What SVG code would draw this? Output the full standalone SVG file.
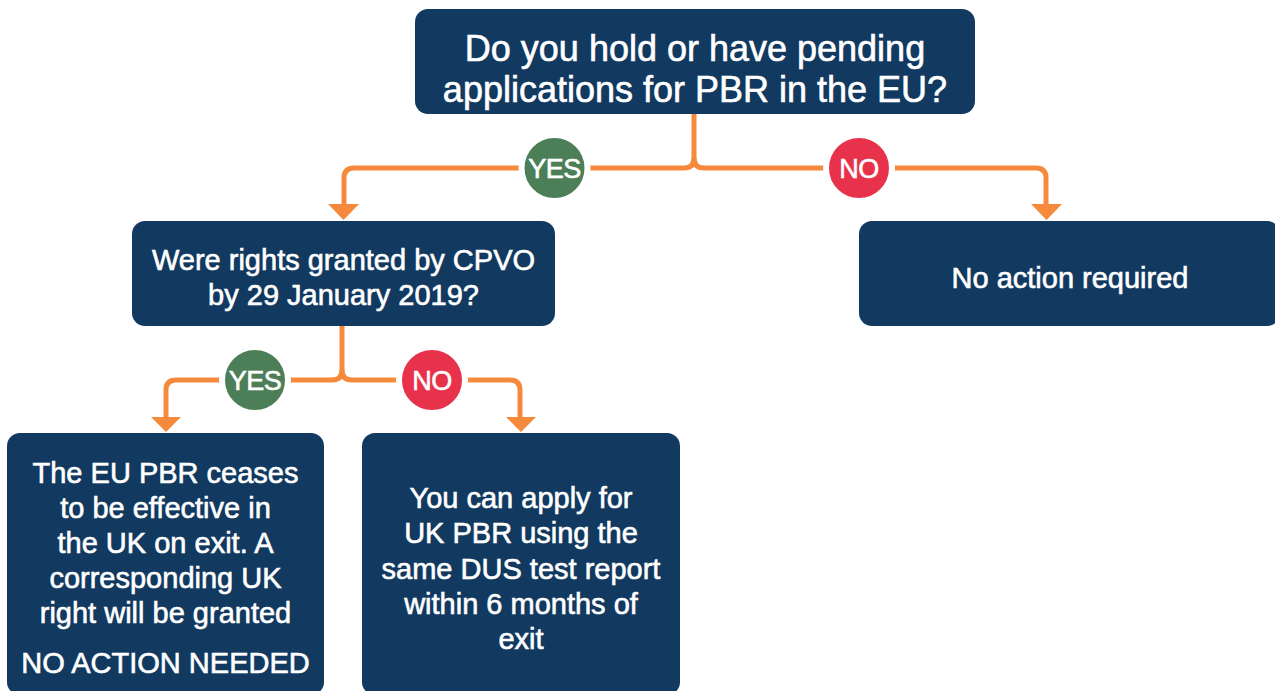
<svg xmlns="http://www.w3.org/2000/svg" width="1275" height="691" viewBox="0 0 1275 691">
<defs>
<style>
.box{fill:#12395f;}
.t{font-family:"Liberation Sans",Arial,sans-serif;fill:#ffffff;stroke:#ffffff;stroke-width:0.6px;text-anchor:middle;}
.t1{font-size:36px;}
.t2{font-size:29px;}
.line{fill:none;stroke:#f58a3c;stroke-width:5;}
.head{fill:#f58a3c;}
.yes{fill:#4c7f57;stroke:#ffffff;stroke-width:6;}
.no{fill:#e8314a;stroke:#ffffff;stroke-width:6;}
.lbl{font-family:"Liberation Sans",Arial,sans-serif;font-size:27px;fill:#ffffff;stroke:#ffffff;stroke-width:0.6px;text-anchor:middle;letter-spacing:-0.5px;}
</style>
</defs>
<rect width="1275" height="691" fill="#ffffff"/>
<g id="connectors">
<path class="line" d="M694,114 V158 Q694,168 684,168 H354 Q344,168 344,178 V206"/>
<path class="line" d="M694,158 Q694,168 704,168 H1036 Q1046,168 1046,178 V206"/>
<polygon class="head" points="328,204 359,204 343.5,220"/>
<polygon class="head" points="1031,204 1062,204 1046.5,220"/>
<path class="line" d="M342,326 V370 Q342,380 332,380 H176 Q166,380 166,390 V419"/>
<path class="line" d="M342,370 Q342,380 352,380 H510 Q520,380 520,390 V419"/>
<polygon class="head" points="151,417 181,417 166,432"/>
<polygon class="head" points="506,417 536,417 521,432"/>
<g id="label-yes-1"><circle class="yes" cx="554.5" cy="168" r="33"/><text class="lbl" x="554.5" y="178">YES</text></g>
<g id="label-no-1"><circle class="no" cx="859" cy="168" r="33"/><text class="lbl" x="859" y="178">NO</text></g>
<g id="label-yes-2"><circle class="yes" cx="255" cy="380" r="33"/><text class="lbl" x="255" y="390">YES</text></g>
<g id="label-no-2"><circle class="no" cx="432" cy="380" r="33"/><text class="lbl" x="432" y="390">NO</text></g>
</g>
<g id="node-question1">
<rect class="box" x="415" y="9" width="560" height="105" rx="13"/>
<text class="t t1" x="695" y="61">Do you hold or have pending</text>
<text class="t t1" x="695" y="102">applications for PBR in the EU?</text>
</g>
<g id="node-question2">
<rect class="box" x="132" y="221" width="423" height="105" rx="13"/>
<text class="t t2" x="343.5" y="270">Were rights granted by CPVO</text>
<text class="t t2" x="343.5" y="305">by 29 January 2019?</text>
</g>
<g id="node-no-action">
<rect class="box" x="859" y="221" width="421" height="105" rx="13"/>
<text class="t t2" x="1070" y="288">No action required</text>
</g>
<g id="node-eu-ceases">
<rect class="box" x="7" y="433" width="317" height="262" rx="13"/>
<text class="t t2" x="165.5" y="483">The EU PBR ceases</text>
<text class="t t2" x="165.5" y="518">to be effective in</text>
<text class="t t2" x="165.5" y="553">the UK on exit. A</text>
<text class="t t2" x="165.5" y="588">corresponding UK</text>
<text class="t t2" x="165.5" y="623">right will be granted</text>
<text class="t t2" x="165.5" y="673">NO ACTION NEEDED</text>
</g>
<g id="node-apply">
<rect class="box" x="362" y="433" width="318" height="262" rx="13"/>
<text class="t t2" x="521" y="508">You can apply for</text>
<text class="t t2" x="521" y="543">UK PBR using the</text>
<text class="t t2" x="521" y="579">same DUS test report</text>
<text class="t t2" x="521" y="614">within 6 months of</text>
<text class="t t2" x="521" y="649">exit</text>
</g>
</svg>
